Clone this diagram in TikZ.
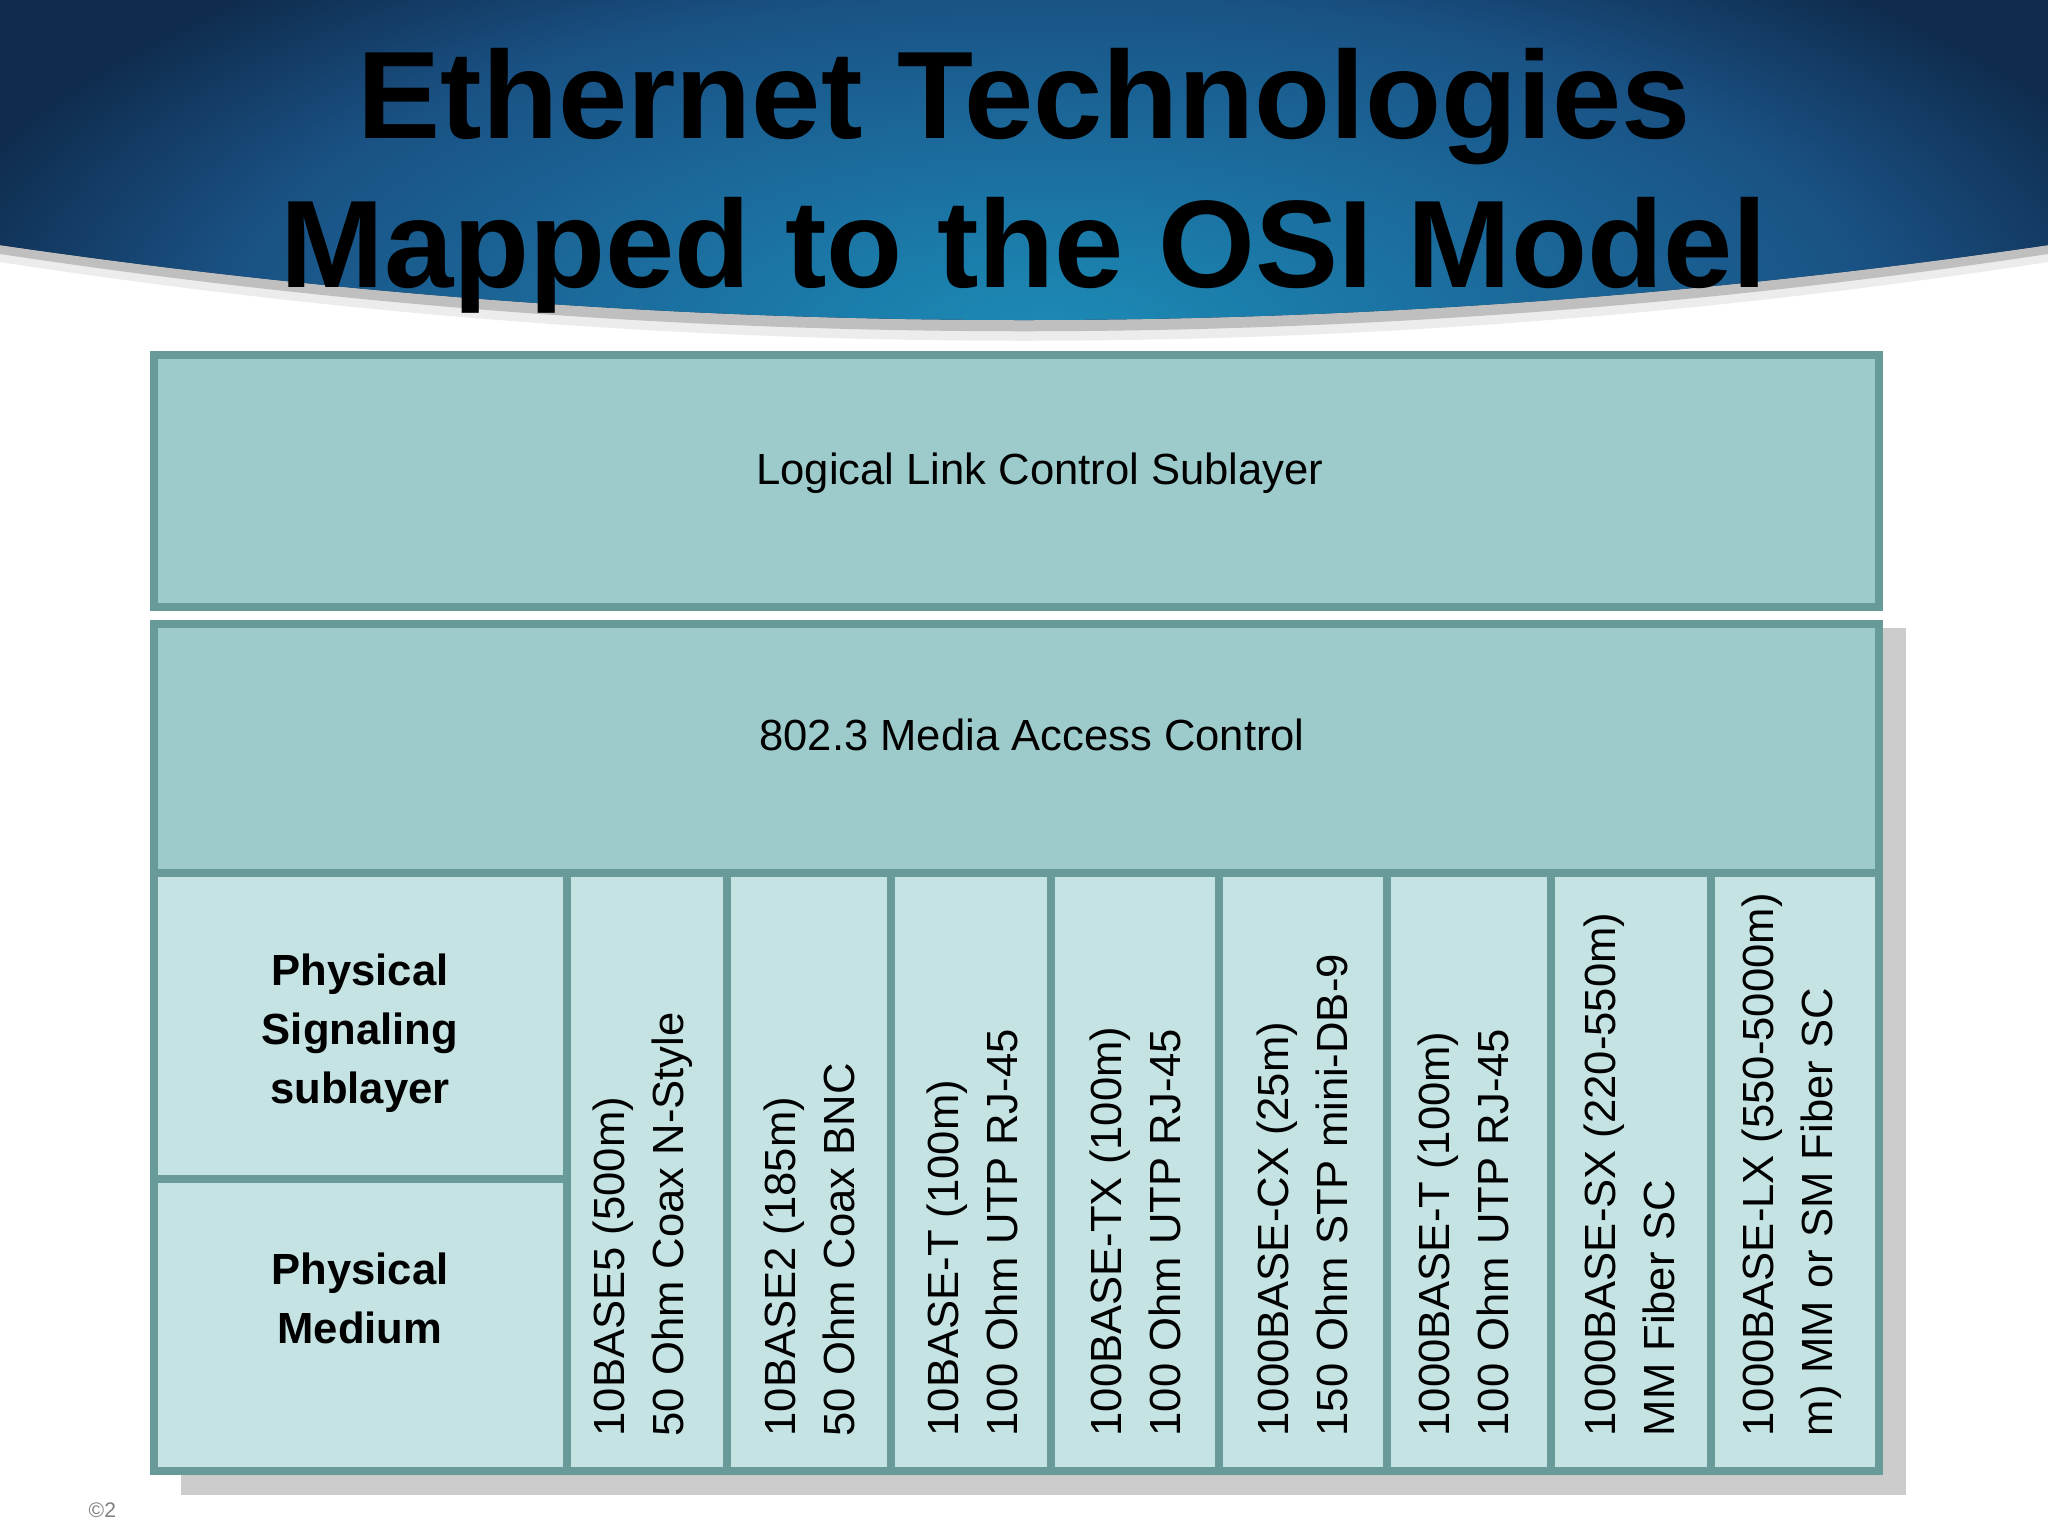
\documentclass[tikz,border=0pt]{standalone}
\usepackage{fontspec}
\setmainfont{Liberation Sans}
\usetikzlibrary{calc}
\definecolor{navy}{HTML}{0F2C4E}
\definecolor{glow}{HTML}{1C8CB6}
\definecolor{glowtwo}{HTML}{1B72A2}
\definecolor{glowmid}{HTML}{1A5285}
\definecolor{layerfill}{HTML}{9DCBCB}
\definecolor{cellfill}{HTML}{C5E3E3}
\definecolor{layerline}{HTML}{689A9A}
\definecolor{shadowgray}{HTML}{CCCCCC}
\pgfdeclareradialshading{bannerglow}{\pgfpoint{0bp}{0bp}}{color(0bp)=(glow); color(8bp)=(glowtwo); color(18bp)=(glowmid); color(25bp)=(navy); color(50bp)=(navy)}

\begin{document}
\begin{tikzpicture}[x=0.01cm,y=-0.01cm,
	layer/.style={draw=layerline, line width=2.4pt},
	title/.style={font=\bfseries\fontsize{35.4}{42}\selectfont, anchor=base, inner sep=0pt},
	txt/.style={font=\fontsize{12.4}{16.8}\selectfont, inner sep=0pt},
	coltxt/.style={txt, rotate=90, anchor=west, align=left},
	sidetxt/.style={font=\bfseries\fontsize{12.4}{16.8}\selectfont, inner sep=0pt, align=center}]
		%%%%% START %%%%%
		\useasboundingbox (0,0) rectangle (2048,1536);
		\fill[white] (0,0) rectangle (2048,1536);
		
		% banner with its shadow
		\fill[gray!15] (0,0) -- (0,262) .. controls (683,367) and (1365,367) .. (2048,262) -- (2048,0) -- cycle;
		\fill[gray!50] (0,0) -- (0,254) .. controls (683,357) and (1365,357) .. (2048,254) -- (2048,0) -- cycle;
		\begin{scope}
			\clip (0,0) -- (0,245) .. controls (683,345) and (1365,345) .. (2048,245) -- (2048,0) -- cycle;
			\fill[navy] (0,0) rectangle (2048,420);
			\shade[shading=bannerglow] (1050,340) ellipse (1150 and 480);
		\end{scope}
		
		\node[title] (title1) at (1024,138) {Ethernet Technologies};
		\node[title] (title2) at (1024,287) {Mapped to the OSI Model};
		
		% LLC sublayer
		\draw[layer, fill=layerfill] (154,355) rectangle (1879,607);
		\node[txt] (llc) at (1040,473) {Logical Link Control Sublayer};
		
		% MAC block and its shadow
		\fill[shadowgray] (181,628) rectangle (1906,1495);
		\fill[layerfill] (154,624) rectangle (1879,873);
		\fill[cellfill] (154,873) rectangle (1879,1471);
		\draw[layer] (154,873) -- (1879,873);
		\draw[layer] (154,1179) -- (567,1179);
		\draw[layer] (567,873) -- (567,1471);
		\draw[layer] (727,873) -- (727,1471);
		\draw[layer] (891,873) -- (891,1471);
		\draw[layer] (1051,873) -- (1051,1471);
		\draw[layer] (1219,873) -- (1219,1471);
		\draw[layer] (1387,873) -- (1387,1471);
		\draw[layer] (1551,873) -- (1551,1471);
		\draw[layer] (1711,873) -- (1711,1471);
		\draw[layer] (154,624) rectangle (1879,1471);
		\node[txt] (mac) at (1032,735) {802.3 Media Access Control};
		
		\node[sidetxt] (pls) at (360,1033) {Physical\\Signaling\\sublayer};
		\node[sidetxt] (pmd) at (360,1298) {Physical\\Medium};
		
		% media columns
		\node[coltxt] (base5) at (643,1437) {10BASE5 (500m)\\50 Ohm Coax N-Style};
		\node[coltxt] (base2) at (809,1437) {10BASE2 (185m)\\50 Ohm Coax BNC};
		\node[coltxt] (baset) at (972,1437) {10BASE-T (100m)\\100 Ohm UTP RJ-45};
		\node[coltxt] (basetx) at (1135,1437) {100BASE-TX (100m)\\100 Ohm UTP RJ-45};
		\node[coltxt] (basecx) at (1302,1437) {1000BASE-CX (25m)\\150 Ohm STP mini-DB-9};
		\node[coltxt] (gbaset) at (1463,1437) {1000BASE-T (100m)\\100 Ohm UTP RJ-45};
		\node[coltxt] (basesx) at (1629,1437) {1000BASE-SX (220-550m)\\MM Fiber SC};
		\node[coltxt] (baselx) at (1792,1437) {1000BASE-LX (550-5000m)\\m) MM or SM Fiber SC};
		
		\node[font=\fontsize{6}{7}\selectfont, text=gray, anchor=west, inner sep=0pt] (mark) at (88,1510) {©2};
		%%%%% END %%%%%
\end{tikzpicture}
\end{document}
